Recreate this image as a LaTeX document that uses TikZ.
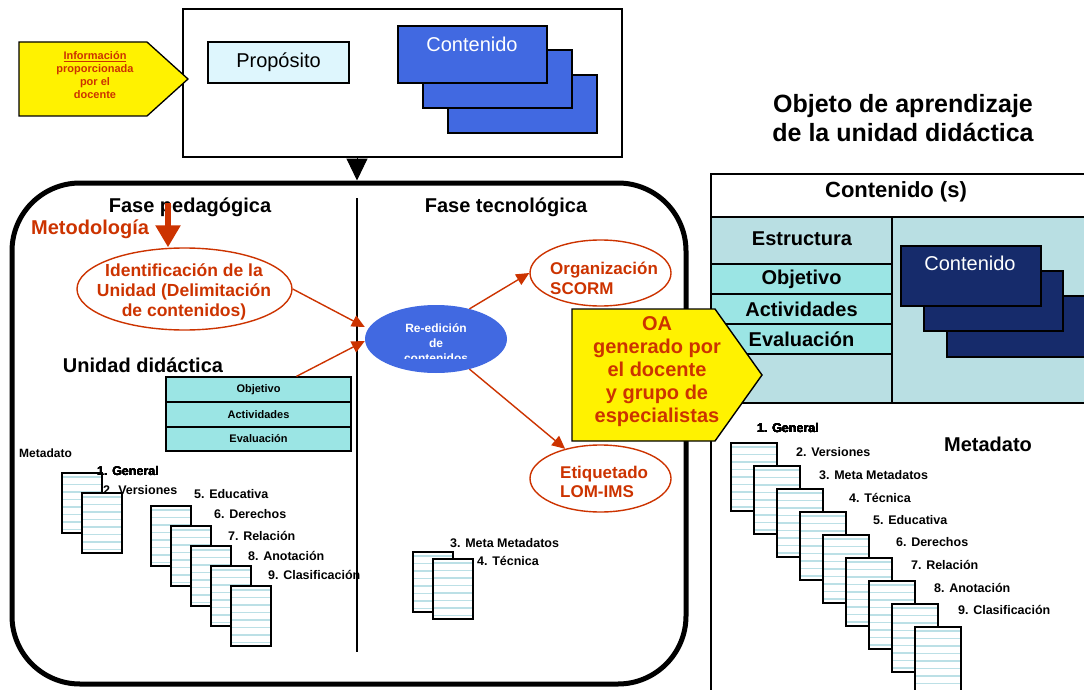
\documentclass[tikz,border=0pt]{standalone}
\usepackage{fontspec}
\setmainfont{Liberation Sans}
\usetikzlibrary{shapes.geometric,arrows.meta}

\definecolor{oared}{RGB}{204,51,0}
\definecolor{royal}{RGB}{65,105,225}
\definecolor{navyblue}{RGB}{22,43,107}
\definecolor{paleblue}{RGB}{222,246,253}
\definecolor{rowcyan}{RGB}{155,229,228}
\definecolor{panelcyan}{RGB}{185,223,227}
\definecolor{stripecol}{RGB}{188,224,230}

\newcommand{\setfs}[2]{\fontsize{#1}{#2}\selectfont}
\newcommand{\docsheet}[4]{%
  \fill[white] (#1,#2) rectangle ++(#3,#4);
  \pgfmathsetmacro\sheetend{#4-3}
  \foreach \s in {4,11.5,...,\sheetend}
    \draw[stripecol, line width=1.6pt] (#1,#2+\s) -- ++(#3,0);
  \draw[line width=1.3pt] (#1,#2) rectangle ++(#3,#4);
}

\tikzset{
  boxed/.style={draw, line width=1.3pt, inner sep=0pt},
  txt/.style={inner sep=0pt, font=\bfseries\setfs{20}{23}},
  redtxt/.style={txt, text=oared},
  lbl/.style={inner sep=0pt, anchor=west, font=\bfseries\setfs{12.5}{14}},
  redell/.style={ellipse, draw=oared, line width=1.4pt, inner sep=0pt},
  redarrow/.style={draw=oared, line width=1.4pt, -{Triangle[length=13pt,width=12pt]}},
  rowcell/.style={boxed, fill=rowcyan},
  bluecard/.style={boxed, fill=royal, minimum width=149pt},
  navycard/.style={boxed, fill=navyblue}
}

\begin{document}
\begin{tikzpicture}[x=1pt,y=-1pt]
\useasboundingbox (0,0) rectangle (1084,690);

\node[boxed, minimum width=439pt, minimum height=148pt] (topbox) at (402.5,83) {};
\node[boxed, fill=paleblue, minimum width=141pt, minimum height=41pt,
      font=\setfs{20}{23}] (proposito) at (278.5,62.5) {Propósito};
\node[bluecard, minimum height=58pt] (cont3) at (522.5,104) {};
\node[bluecard, minimum height=58pt] (cont2) at (497.5,79) {};
\node[bluecard, minimum height=57pt] (cont1) at (472.5,54.5) {};
\node[inner sep=0pt, text=white, font=\setfs{20}{23}] (cont1lbl) at (472,44) {Contenido};

\filldraw[fill=yellow, line width=1.3pt] (19,42) -- (147,42) -- (188,79) -- (147,116) -- (19,116) -- cycle;
\node[inner sep=0pt, align=center, text=oared, font=\bfseries\setfs{11}{13}] (info) at (95,75)
  {\underline{Información}\\proporcionada\\por el\\docente};

\node[draw, line width=5pt, rounded corners=68pt, inner sep=0pt,
      minimum width=674pt, minimum height=501pt] (mainbox) at (349,433.5) {};
\coordinate (drop) at (357,157);
\draw[line width=1pt, -{Triangle[length=22pt,width=21pt]}] (drop) -- (drop |- mainbox.north);

\coordinate (divtop) at (357,198);
\coordinate (divbot) at (357,652);
\draw[line width=1.2pt] (divtop) -- (divbot);

\node[txt] (fasepeda) at (190,207) {Fase pedagógica};
\node[txt] (fasetec) at (506,207) {Fase tecnológica};
\node[redtxt, anchor=west] (metod) at (31,229) {Metodología};

\node[redell, minimum width=215pt, minimum height=82pt] (ident) at (184.5,289) {};
\node[redtxt, align=center, font=\bfseries\setfs{17.5}{20}] (identlbl) at (184,292)
  {Identificación de la\\Unidad (Delimitación\\de contenidos)};
\coordinate (metstart) at (168,203);
\draw[draw=oared, line width=6pt, -{Triangle[length=22pt,width=24pt]}] (metstart) -- (metstart |- ident.north);

\node[txt] (unidad) at (143,365) {Unidad didáctica};
\node[rowcell, minimum width=185pt, minimum height=25pt, font=\bfseries\setfs{11}{13}] (obj) at (258.5,389.5) {Objetivo};
\node[rowcell, minimum width=185pt, minimum height=25pt, font=\bfseries\setfs{11}{13}] (act) at (258.5,414.5) {Actividades};
\node[rowcell, minimum width=185pt, minimum height=24pt, font=\bfseries\setfs{11}{13}] (eva) at (258.5,439) {Evaluación};

\node[ellipse, fill=royal, inner sep=0pt, minimum width=142pt, minimum height=68pt] (reedit) at (436,339) {};
\begin{scope}
\clip (365,300) rectangle (507,358);
\node[inner sep=0pt, align=center, text=white, font=\bfseries\setfs{12}{15}] (reeditlbl) at (436,343)
  {Re-edición\\de\\contenidos};
\end{scope}

\node[redell, minimum width=141pt, minimum height=66pt] (org) at (600.5,273) {};
\node[redtxt, anchor=west, align=left, font=\bfseries\setfs{17}{20}] (orglbl) at (550,278) {Organización\\SCORM};
\node[redell, minimum width=141pt, minimum height=67pt] (etiq) at (600.5,478.5) {};
\node[redtxt, anchor=west, align=left, font=\bfseries\setfs{17}{19}] (etiqlbl) at (560,481.5) {Etiquetado\\LOM-IMS};

\draw[redarrow] (ident.east) -- ([yshift=12pt]reedit.west);
\draw[redarrow] ([xshift=38pt]obj.north) -- ([yshift=-2pt]reedit.west);
\draw[redarrow] (reedit.42) -- (org.west);
\draw[redarrow] (reedit.-42) -- (etiq.140);

\node[lbl, font=\bfseries\setfs{12}{14}] (lmeta) at (19,453) {Metadato};
\docsheet{62}{473}{40}{60}
\docsheet{82}{493}{40}{60}
\foreach \k in {0,...,4}
  \docsheet{151+20*\k}{506+20*\k}{40}{60}
\docsheet{413}{552}{40}{60}
\docsheet{433}{559}{40}{60}
\node[lbl] (lgen) at (97,471) {1. General};
\node[lbl] (lver) at (103,490) {2. Versiones};
\node[lbl] (ledu) at (194,494) {5. Educativa};
\node[lbl] (lder) at (214,514) {6. Derechos};
\node[lbl] (lrel) at (228,536) {7. Relación};
\node[lbl] (lano) at (248,556) {8. Anotación};
\node[lbl] (lcla) at (268,575) {9. Clasificación};
\node[lbl] (lmm) at (450,543) {3. Meta Metadatos};
\node[lbl] (ltec) at (477,561) {4. Técnica};

\node[txt, align=center, font=\bfseries\setfs{25}{29}] (title) at (903,118) {Objeto de aprendizaje\\de la unidad didáctica};

\fill[panelcyan] (711,217) rectangle (1090,403);
\draw[line width=1.2pt] (1090,174) -- (711,174) -- (711,695);
\draw[line width=1.2pt] (711,217) -- (1090,217) (711,403) -- (1090,403) (892,217) -- (892,403);
\node[txt, font=\bfseries\setfs{22}{25}] (contsh) at (896,192) {Contenido (s)};
\node[txt] (estr) at (802,239) {Estructura};
\node[rowcell, minimum width=181pt, minimum height=30pt, font=\bfseries\setfs{20}{23}] (robj) at (801.5,279) {Objetivo};
\node[rowcell, minimum width=181pt, minimum height=30pt, font=\bfseries\setfs{20}{23}] (ract) at (801.5,309) {Actividades};
\node[rowcell, minimum width=181pt, minimum height=30pt, font=\bfseries\setfs{20}{23}] (reva) at (801.5,339) {Evaluación};
\node[navycard, minimum width=143pt, minimum height=61pt] (ncont3) at (1018.5,326.5) {};
\node[navycard, minimum width=139pt, minimum height=60pt] (ncont2) at (993.5,301) {};
\node[navycard, minimum width=140pt, minimum height=60pt] (ncont1) at (971,276) {};
\node[inner sep=0pt, text=white, font=\setfs{20}{23}] (ncont1lbl) at (970,263) {Contenido};

\node[txt] (rmeta) at (988,444) {Metadato};
\foreach \k in {0,...,8}
  \docsheet{731+23*\k}{443+23*\k}{46}{68}
\node[lbl] (rgen) at (757,428) {1. General};
\node[lbl] (rver) at (796,452) {2. Versiones};
\node[lbl] (rmm) at (819,475) {3. Meta Metadatos};
\node[lbl] (rtec) at (849,498) {4. Técnica};
\node[lbl] (redu) at (873,520) {5. Educativa};
\node[lbl] (rder) at (896,542) {6. Derechos};
\node[lbl] (rrel) at (911,565) {7. Relación};
\node[lbl] (rano) at (934,588) {8. Anotación};
\node[lbl] (rcla) at (958,610) {9. Clasificación};

\filldraw[fill=yellow, line width=1.4pt] (572,309) -- (715,309) -- (762,375) -- (715,441) -- (572,441) -- cycle;
\node[redtxt, align=center] (oa) at (657,372) {OA\\generado por\\el docente\\y grupo de\\especialistas};

\end{tikzpicture}
\end{document}
